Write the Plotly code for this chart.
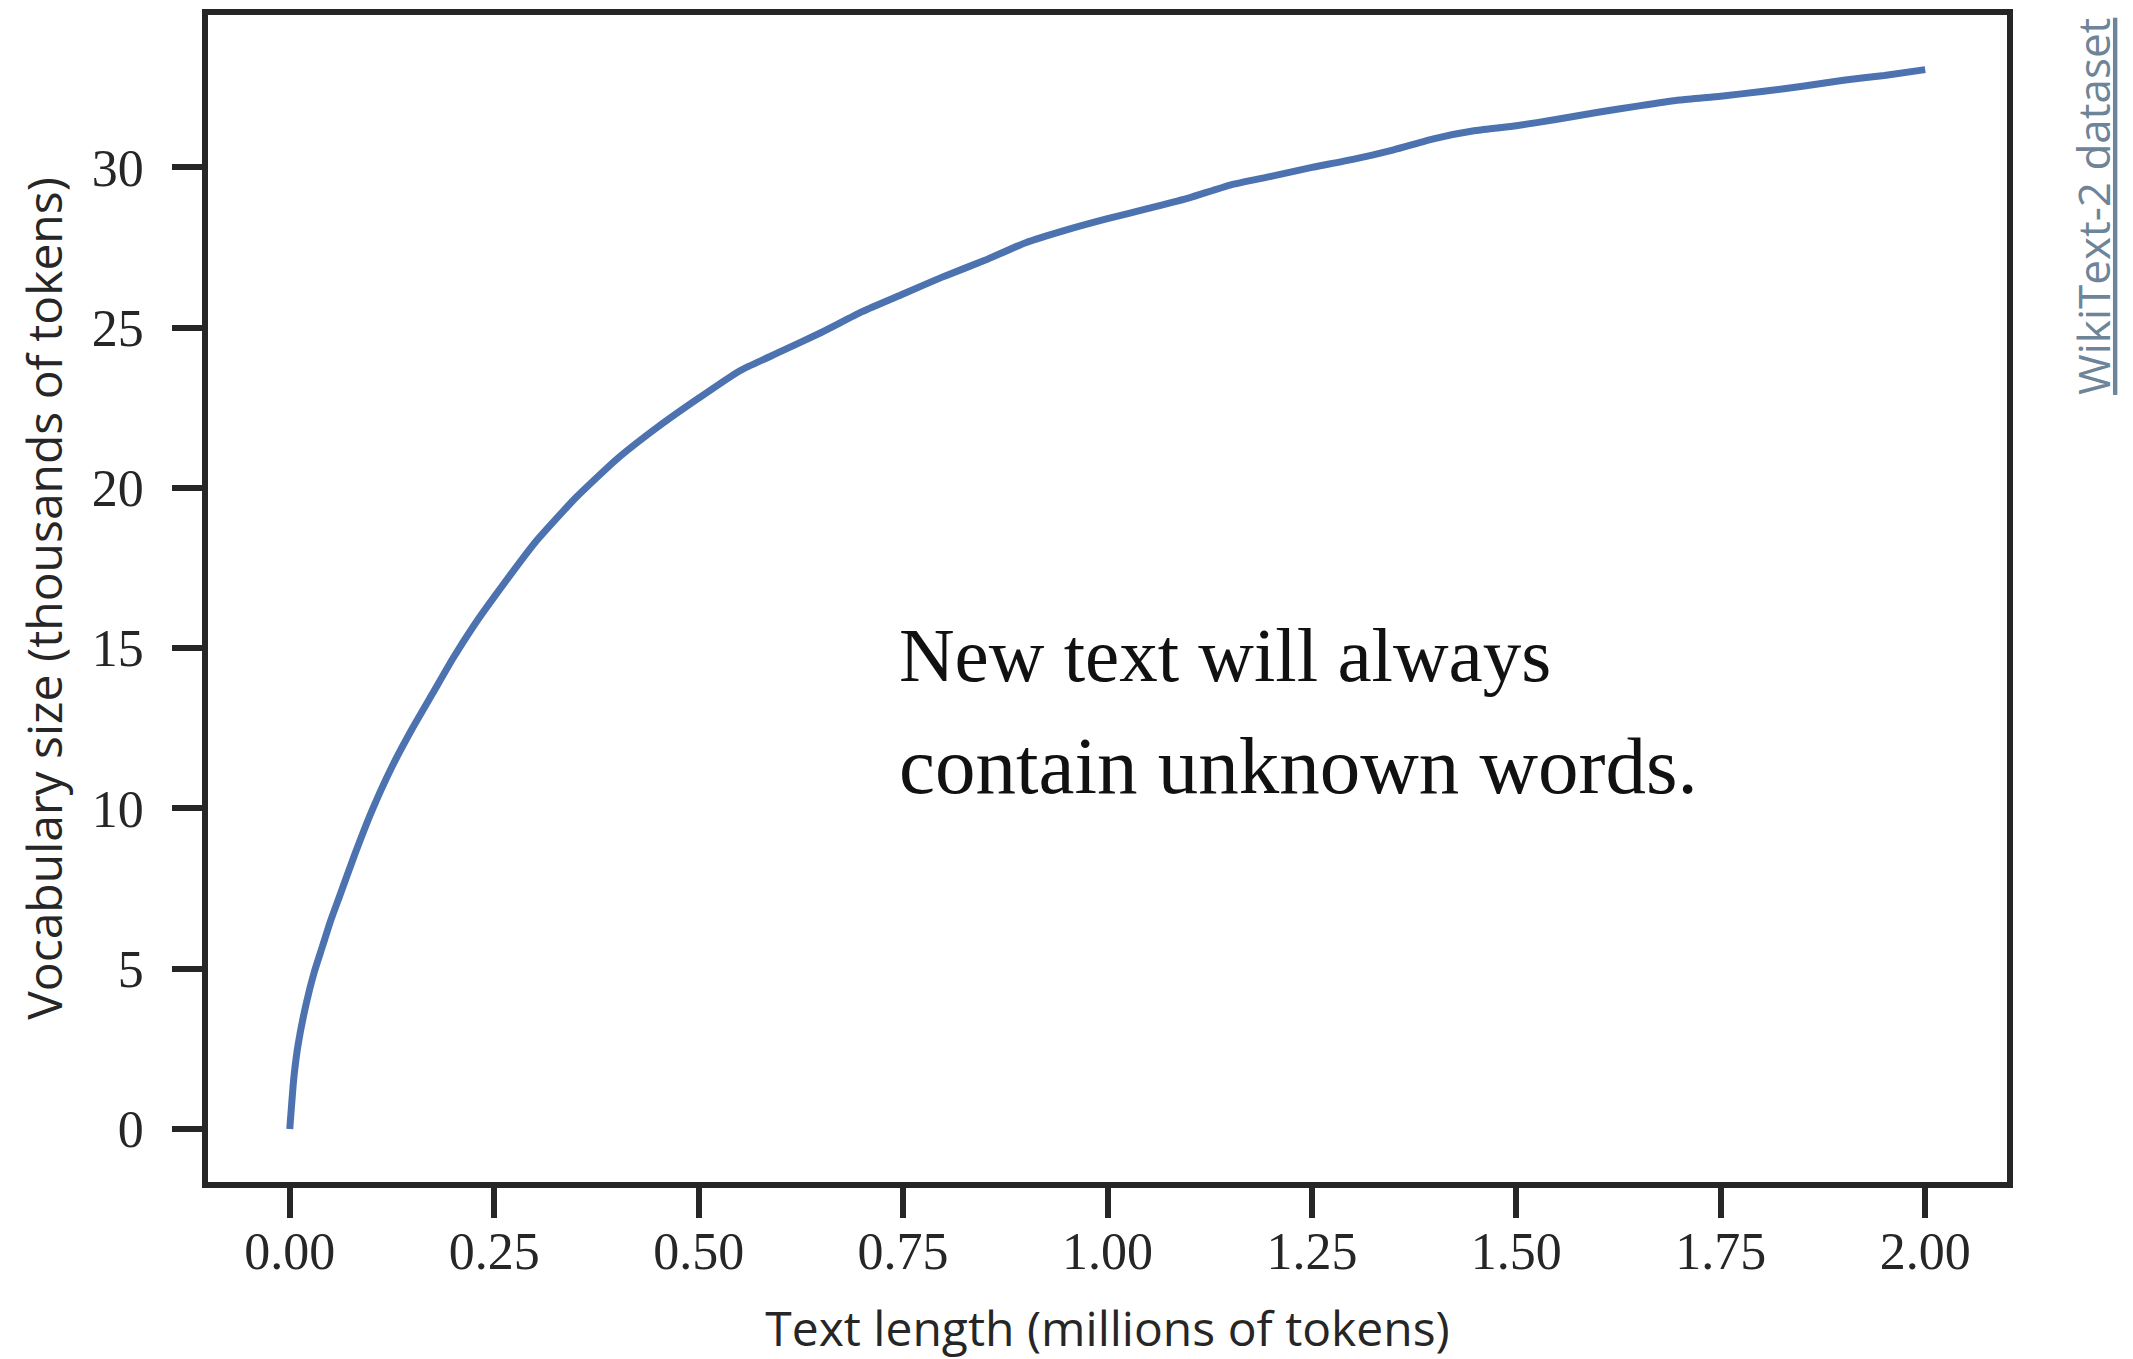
import plotly.graph_objects as go

# Text length (millions of tokens)
text_length = [0, 0.005, 0.01, 0.02, 0.03, 0.04, 0.05, 0.06, 0.08, 0.10, 0.125, 0.15, 0.175,
               0.2, 0.225, 0.25, 0.3, 0.35, 0.4, 0.45, 0.5, 0.55, 0.6, 0.65, 0.7, 0.75, 0.8,
               0.85, 0.9, 0.95, 1.0, 1.05, 1.1, 1.15, 1.2, 1.25, 1.3, 1.35, 1.4, 1.45, 1.5,
               1.55, 1.6, 1.65, 1.7, 1.75, 1.8, 1.85, 1.9, 1.95, 2.0]
# Vocabulary size (thousands of tokens)
vocab_size = [0, 1.6, 2.6, 3.9, 4.9, 5.7, 6.5, 7.2, 8.6, 9.9, 11.3, 12.5, 13.6,
              14.7, 15.7, 16.6, 18.3, 19.7, 20.9, 21.9, 22.8, 23.65, 24.25, 24.85, 25.5, 26.05, 26.6,
              27.1, 27.65, 28.05, 28.4, 28.72, 29.05, 29.45, 29.72, 30.0, 30.25, 30.55, 30.9, 31.15, 31.3,
              31.5, 31.72, 31.92, 32.1, 32.22, 32.37, 32.53, 32.72, 32.87, 33.05]

x_ticks = [0.0, 0.25, 0.5, 0.75, 1.0, 1.25, 1.5, 1.75, 2.0]
x_tick_labels = ["0.00", "0.25", "0.50", "0.75", "1.00", "1.25", "1.50", "1.75", "2.00"]
y_ticks = [0, 5, 10, 15, 20, 25, 30]
y_tick_labels = ["0", "5", "10", "15", "20", "25", "30"]

note_lines = ["New text will always", "contain unknown words."]
note_y = [13.37, 9.85]
note_sizes = [77, 81]

INK = "#262626"
SERIF = "Liberation Serif, Times New Roman, serif"
SANS = "Open Sans, Noto Sans, sans-serif"

fig = go.Figure()
fig.add_trace(go.Scatter(
    x=text_length, y=vocab_size, mode="lines",
    line=dict(color="#4c72b0", width=7, shape="spline", smoothing=0.5),
    showlegend=False, hoverinfo="x+y",
))

axis_common = dict(
    showline=True, linecolor=INK, linewidth=5.5, mirror=True,
    ticks="outside", ticklen=30, tickwidth=5.5, tickcolor=INK,
    showgrid=False, zeroline=False,
    tickfont=dict(family=SERIF, size=52, color=INK),
)

fig.update_xaxes(
    range=[-0.1, 2.1], tickvals=x_ticks, ticktext=x_tick_labels,
    ticklabelstandoff=-11,
    title=dict(text="Text length (millions of tokens)", font=dict(family=SANS, size=48, color=INK), standoff=35),
    **axis_common,
)
fig.update_yaxes(
    range=[-1.655, 34.755], tickvals=y_ticks, ticktext=y_tick_labels,
    ticklabelstandoff=18,
    title=dict(text="Vocabulary size (thousands of tokens)", font=dict(family=SANS, size=48, color=INK), standoff=16),
    **axis_common,
)

for line, yv, sz in zip(note_lines, note_y, note_sizes):
    fig.add_annotation(
        x=0.742, y=yv, xref="x", yref="y", text=line, showarrow=False,
        xanchor="left", yanchor="bottom",
        font=dict(family=SERIF, size=sz, color="#111111"),
    )

fig.add_annotation(
    x=1.0475, y=1.0, xref="paper", yref="paper",
    text="<u>WikiText-2 dataset</u>", showarrow=False, textangle=-90,
    xanchor="center", yanchor="top", yshift=-1,
    font=dict(family=SANS, size=44, color="#6e8498"),
)

fig.update_layout(
    width=2133, height=1359,
    margin=dict(l=200, r=134, t=7, b=185, autoexpand=False),
    paper_bgcolor="white", plot_bgcolor="white",
)

fig.write_html("out.html")
